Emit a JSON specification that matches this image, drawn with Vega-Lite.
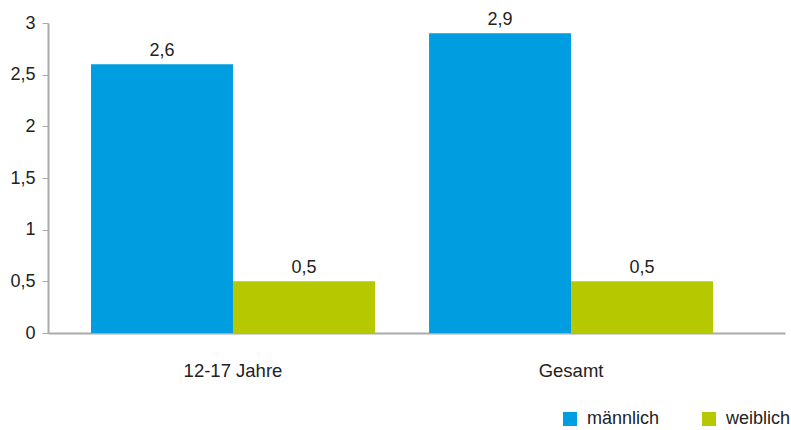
{
  "$schema": "https://vega.github.io/schema/vega-lite/v6.json",
  "width": 737,
  "height": 310,
  "padding": {"left": 48, "top": 23, "right": 6, "bottom": 97},
  "autosize": {"type": "none"},
  "background": "white",
  "config": {
    "view": {"stroke": null},
    "font": "Liberation Sans",
    "text": {"font": "Liberation Sans"}
  },
  "data": {
    "values": [
      {"gruppe": "12-17 Jahre", "geschlecht": "männlich", "wert": 2.6},
      {"gruppe": "12-17 Jahre", "geschlecht": "weiblich", "wert": 0.5},
      {"gruppe": "Gesamt", "geschlecht": "männlich", "wert": 2.9},
      {"gruppe": "Gesamt", "geschlecht": "weiblich", "wert": 0.5}
    ]
  },
  "transform": [
    {"calculate": "replace(format(datum.wert, '.1f'), '.', ',')", "as": "label"}
  ],
  "encoding": {
    "x": {
      "field": "gruppe",
      "type": "nominal",
      "title": null,
      "scale": {"paddingInner": 0.16, "paddingOuter": 0.17, "align": 0.374},
      "axis": {
        "labelAngle": 0,
        "labelFontSize": 18.5,
        "labelColor": "#222222",
        "labelPadding": 28,
        "ticks": false,
        "domainColor": "#aaaaaa",
        "domainWidth": 2,
        "grid": false
      }
    },
    "xOffset": {"field": "geschlecht", "type": "nominal", "scale": {"paddingInner": 0}},
    "y": {
      "field": "wert",
      "type": "quantitative",
      "title": null,
      "scale": {"domain": [0, 3], "nice": false},
      "axis": {
        "values": [0, 0.5, 1, 1.5, 2, 2.5, 3],
        "labelExpr": "replace(toString(datum.value), '.', ',')",
        "labelFontSize": 18,
        "labelColor": "#222222",
        "labelPadding": 7,
        "tickSize": 6,
        "tickColor": "#aaaaaa",
        "domainColor": "#aaaaaa",
        "domainWidth": 2,
        "grid": false
      }
    }
  },
  "layer": [
    {
      "mark": {"type": "bar"},
      "encoding": {
        "color": {
          "field": "geschlecht",
          "type": "nominal",
          "title": null,
          "scale": {"domain": ["männlich", "weiblich"], "range": ["#009EE0", "#B5C800"]},
          "legend": {
            "orient": "none",
            "direction": "horizontal",
            "legendX": 513,
            "legendY": 387,
            "symbolType": "square",
            "symbolSize": 196,
            "symbolOpacity": 1,
            "symbolStrokeWidth": 0,
            "labelFontSize": 18,
            "labelColor": "#222222",
            "labelOffset": 8,
            "columnPadding": 40
          }
        }
      }
    },
    {
      "mark": {"type": "text", "baseline": "bottom", "dy": -4, "fontSize": 18, "color": "#222222"},
      "encoding": {"text": {"field": "label"}}
    }
  ]
}
